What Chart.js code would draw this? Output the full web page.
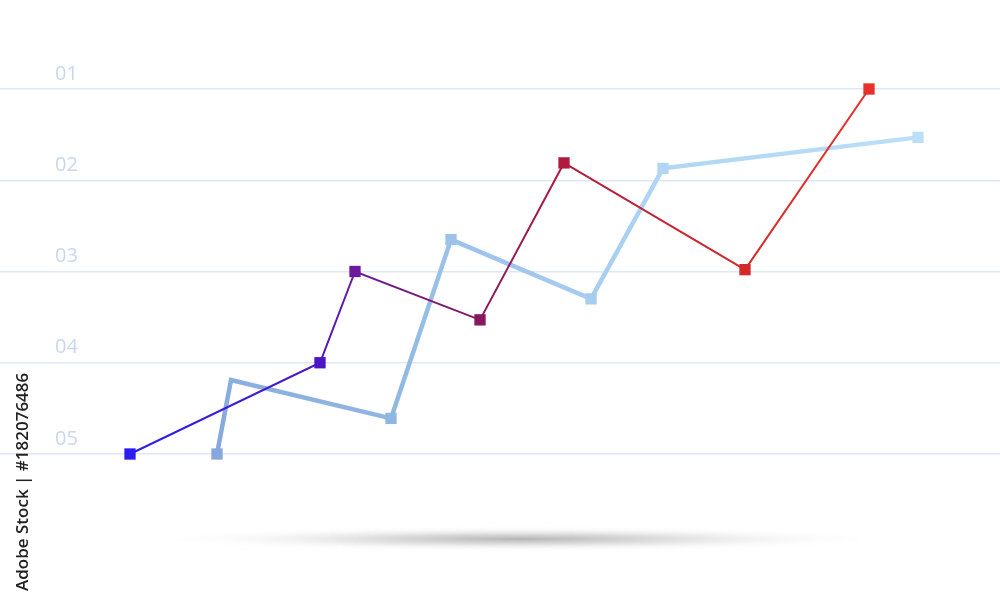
<!DOCTYPE html>
<html>
<head>
<meta charset="utf-8">
<script src="https://cdn.jsdelivr.net/npm/chart.js@4/dist/chart.umd.min.js"></script>
<style>
html,body{margin:0;padding:0;background:#fff;}
canvas{display:block;}
</style>
</head>
<body>
<canvas id="c" width="1000" height="610"></canvas>
<script>
// Data
const yTickLabels = ['01','02','03','04','05'];
const seriesA_x = [13.0, 32.0, 35.5, 48.0, 56.4, 74.5, 86.9];
const seriesA_y = [5.0, 4.0, 3.0, 3.53, 1.81, 2.98, 1.0];
const seriesA_colors = ['#2a1ff0','#4c16c4','#6a1a9a','#86185e','#b01a40','#d42a2a','#e8302a'];
const seriesB_x = [21.7, 23.1, 39.1, 45.1, 59.1, 66.3, 91.8];
const seriesB_y = [5.0, 4.19, 4.61, 2.65, 3.30, 1.87, 1.53];
const seriesB_markers = [true, false, true, true, true, true, true];
const seriesB_colors = ['#86a8dc','#8aaee0','#90b6e4','#9cc2ea','#a6ccf0','#b0d6f4','#bcdff8'];
const watermark = 'Adobe Stock | #182076486';

function gradientFor(chart, xs, colors) {
  const area = chart.chartArea;
  if (!area) return colors[0];
  const xScale = chart.scales.x;
  const x0 = xScale.getPixelForValue(xs[0]);
  const x1 = xScale.getPixelForValue(xs[xs.length - 1]);
  const g = chart.ctx.createLinearGradient(x0, 0, x1, 0);
  xs.forEach((v, i) => {
    const p = (xScale.getPixelForValue(v) - x0) / (x1 - x0);
    g.addColorStop(Math.min(1, Math.max(0, p)), colors[i]);
  });
  return g;
}

const decor = {
  id: 'decor',
  beforeDraw(chart) {
    const ctx = chart.ctx;
    ctx.save();
    ctx.translate(520, 539);
    ctx.scale(1, 0.035);
    const g = ctx.createRadialGradient(0, 0, 0, 0, 0, 380);
    g.addColorStop(0, 'rgba(120,120,120,0.55)');
    g.addColorStop(0.35, 'rgba(150,150,150,0.35)');
    g.addColorStop(0.7, 'rgba(200,200,200,0.12)');
    g.addColorStop(1, 'rgba(255,255,255,0)');
    ctx.fillStyle = g;
    ctx.beginPath();
    ctx.arc(0, 0, 380, 0, Math.PI * 2);
    ctx.fill();
    ctx.restore();
  },
  afterDraw(chart) {
    const ctx = chart.ctx;
    ctx.save();
    ctx.translate(23, 591);
    ctx.rotate(-Math.PI / 2);
    ctx.font = '600 17px "Open Sans"';
    ctx.fillStyle = '#222';
    ctx.textAlign = 'left';
    ctx.textBaseline = 'middle';
    ctx.fillText(watermark, 0, 0);
    ctx.restore();
  }
};

new Chart(document.getElementById('c'), {
  type: 'line',
  data: {
    datasets: [
      {
        data: seriesA_x.map((x, i) => ({x: x, y: seriesA_y[i]})),
        borderColor: (ctx) => gradientFor(ctx.chart, seriesA_x, seriesA_colors),
        borderWidth: 2,
        pointStyle: 'rect',
        pointRadius: 8,
        pointBorderWidth: 0,
        pointBackgroundColor: seriesA_colors,
        tension: 0,
        clip: false
      },
      {
        data: seriesB_x.map((x, i) => ({x: x, y: seriesB_y[i]})),
        borderColor: (ctx) => gradientFor(ctx.chart, seriesB_x, seriesB_colors),
        borderWidth: 4.5,
        borderJoinStyle: 'miter',
        pointStyle: 'rect',
        pointRadius: seriesB_markers.map(m => m ? 8 : 0),
        pointBorderWidth: 0,
        pointBackgroundColor: seriesB_colors,
        tension: 0,
        clip: false
      }
    ]
  },
  options: {
    responsive: false,
    animation: false,
    events: [],
    layout: { autoPadding: false, padding: { top: 89, bottom: 156, left: 0, right: 0 } },
    plugins: { legend: { display: false }, tooltip: { enabled: false } },
    scales: {
      x: { type: 'linear', min: 0, max: 100, display: false },
      y: {
        type: 'linear',
        reverse: true,
        min: 1, max: 5,
        afterFit: (s) => { s.width = 0; },
        border: { display: false },
        grid: { color: '#dde7f5', lineWidth: 1.5, drawTicks: false },
        ticks: {
          stepSize: 1,
          mirror: true,
          padding: 55,
          labelOffset: -15,
          color: '#c9d7ee',
          font: { family: 'Open Sans', size: 20 },
          callback: (v) => yTickLabels[v - 1]
        }
      }
    }
  },
  plugins: [decor]
});
</script>
</body>
</html>
